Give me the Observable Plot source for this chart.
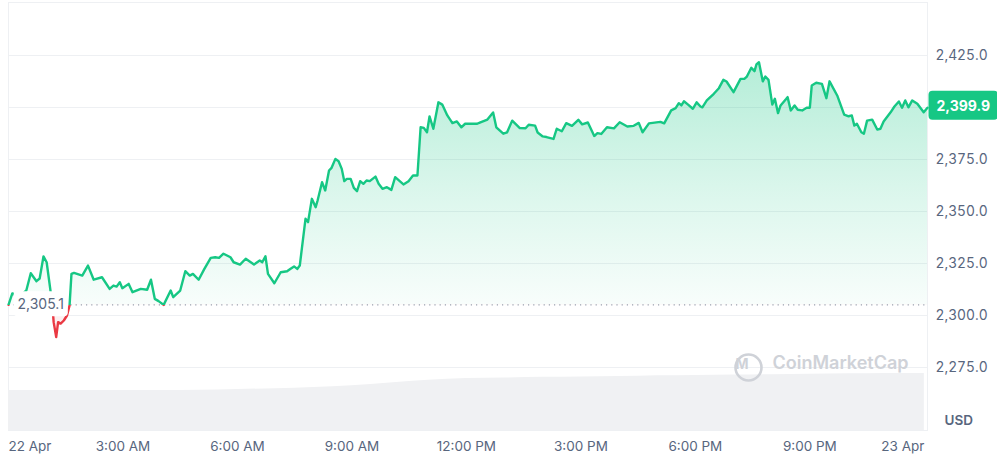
<!DOCTYPE html>
<html>
<head>
<meta charset="utf-8">
<script src="https://cdn.jsdelivr.net/npm/d3@7"></script>
<script src="https://cdn.jsdelivr.net/npm/@observablehq/plot@0.6"></script>
<style>
  html, body { margin: 0; padding: 0; background: #fff; }
  #chart { width: 997px; height: 462px; }
</style>
</head>
<body>
<div id="chart"></div>
<script>
// ---- data (minutes after 22 Apr 00:00, price in USD) ----
const minutes = [0,6,16,24,28,35,44,49,55,60,66,69,71,75,78,82,87,92,96,99,103,116,125,134,147,159,165,170,175,179,189,195,208,218,224,230,236,244,255,259,270,278,285,290,299,308,318,325,331,338,349,354,364,373,386,395,399,404,408,418,428,438,443,449,454,458,467,471,477,483,486,493,498,504,508,514,519,524,528,532,538,543,548,553,558,563,568,577,582,588,595,602,608,621,629,636,643,648,653,658,662,668,676,682,690,698,705,712,718,737,742,753,762,767,778,784,792,804,813,818,828,832,840,846,852,857,862,870,877,886,896,902,911,921,926,932,941,952,961,973,983,991,997,1007,1025,1031,1042,1049,1054,1058,1062,1069,1076,1082,1088,1091,1098,1109,1117,1124,1129,1140,1151,1157,1161,1168,1173,1176,1180,1186,1190,1195,1201,1205,1210,1214,1223,1225,1230,1236,1241,1248,1255,1260,1263,1270,1279,1286,1291,1303,1314,1321,1326,1330,1334,1341,1345,1350,1358,1366,1371,1376,1387,1393,1400,1405,1410,1415,1421,1429,1439,1445];
const prices = [2305.1,2310.6,2309.1,2311.0,2312.0,2320.3,2316.5,2317.8,2328.4,2325.6,2312.0,2305.0,2296.8,2289.6,2296.8,2296.1,2297.6,2300.0,2304.8,2320.0,2320.5,2319.2,2324.0,2317.2,2318.4,2312.8,2314.4,2313.9,2316.0,2313.1,2315.2,2311.2,2312.8,2312.4,2317.2,2308.0,2306.9,2305.1,2312.0,2308.8,2312.0,2321.3,2319.2,2320.0,2317.2,2322.4,2327.7,2328.0,2327.7,2329.7,2328.0,2325.6,2324.5,2327.3,2324.5,2326.4,2325.6,2328.5,2320.0,2315.5,2320.8,2321.3,2322.4,2323.6,2322.4,2324.0,2346.5,2344.9,2356.1,2352.1,2355.3,2364.1,2360.1,2369.7,2371.0,2375.3,2374.2,2370.5,2364.6,2365.7,2365.7,2361.4,2359.8,2364.6,2363.3,2364.9,2364.6,2366.8,2363.3,2360.9,2361.7,2360.4,2366.5,2363.0,2364.6,2367.3,2367.3,2390.5,2390.2,2388.1,2395.7,2389.8,2402.5,2401.4,2396.2,2392.5,2393.3,2390.5,2392.2,2392.2,2392.9,2394.2,2397.6,2390.5,2387.4,2388.1,2393.7,2390.1,2390.0,2391.7,2391.3,2388.0,2386.1,2385.8,2385.3,2384.9,2389.8,2388.6,2392.5,2391.2,2394.1,2391.9,2392.8,2386.3,2387.7,2387.3,2390.5,2390.0,2392.9,2390.9,2391.2,2392.6,2388.1,2392.4,2393.1,2392.4,2398.6,2399.7,2402.1,2401.0,2403.0,2401.3,2399.4,2402.5,2400.5,2400.1,2403.4,2406.6,2409.3,2413.3,2412.5,2407.4,2413.8,2413.8,2414.9,2419.1,2417.5,2420.7,2421.8,2412.6,2414.9,2413.3,2401.4,2404.2,2397.3,2401.0,2404.2,2405.0,2398.6,2401.0,2398.9,2398.6,2399.9,2399.9,2410.6,2411.9,2411.4,2404.5,2412.6,2405.8,2396.6,2395.8,2396.2,2391.3,2392.2,2388.1,2387.4,2393.7,2394.2,2389.4,2389.8,2393.3,2397.7,2400.5,2402.9,2399.9,2403.4,2400.1,2403.4,2401.8,2397.7,2399.9];

// 24h rolling volume (billions USD), hourly
const volHours = [0,1,2,3,4,5,6,7,8,9,10,11,12,13,14,15,16,17,18,19,20,21,22,23,24];
const volumes  = [10.5,10.5,10.5,10.5,10.5,10.6,10.8,11.0,11.3,11.8,12.5,13.2,13.7,13.8,14.0,14.1,14.2,14.4,14.5,14.6,14.7,14.8,14.9,15.0,15.0];

const basePrice = 2305.1;
const lastPrice = 2399.9;

const gridValues = [2275, 2300, 2325, 2350, 2375, 2400, 2425];
const axisValues = [2275, 2300, 2325, 2350, 2375, 2425];

const tickHours  = [0, 3, 6, 9, 12, 15, 18, 21, 24];
const tickLabels = ["22 Apr", "3:00 AM", "6:00 AM", "9:00 AM", "12:00 PM", "3:00 PM", "6:00 PM", "9:00 PM", "23 Apr"];

// ---- build tables ----
const t0 = Date.UTC(2024, 3, 22, 0, 0);
const toDate = m => new Date(t0 + m * 60000);
const series = minutes.map((m, i) => ({date: toDate(m), price: prices[i]}));
const last = series[series.length - 1];
const ticks = tickHours.map((h, i) => ({date: toDate(h * 60), label: tickLabels[i]}));

const yDomain = [2244.7, 2450.5];
const volBand = (yDomain[1] - yDomain[0]) * 0.1332;
const volToY = d3.scaleLinear([0, d3.max(volumes)], [yDomain[0], yDomain[0] + volBand]);
const vol = volHours.map((h, i) => ({date: toDate(h * 60), v: volumes[i]}));

const GREEN = "#16c784", RED = "#ea3943", GRAY = "#58667e", WM = "#cfd2d8";

const chart = Plot.plot({
  width: 997,
  height: 462,
  marginLeft: 8,
  marginRight: 70,
  marginTop: 2,
  marginBottom: 32,
  style: {fontFamily: "Inter, 'Noto Sans', sans-serif", fontSize: "13.8px", color: GRAY, background: "#fff"},
  x: {type: "utc", domain: [toDate(0), last.date], axis: null},
  y: {domain: yDomain, axis: "right", ticks: axisValues, tickSize: 0, tickPadding: 8, tickFormat: d3.format(",.1f"), label: null},
  marks: [
    Plot.frame({stroke: "#eef0f3"}),
    Plot.ruleY(gridValues, {stroke: "#eef0f3", strokeWidth: 1}),
    Plot.areaY(vol, {x: "date", y1: () => yDomain[0], y2: d => volToY(d.v), fill: "#f0f1f3", curve: "monotone-x"}),
    Plot.ruleY([basePrice], {stroke: "#9aa2b1", strokeDasharray: "1.2,4", strokeWidth: 1.2}),
    Plot.areaY(series, {x: "date", y1: () => basePrice, y2: "price", fill: "url(#greenGrad)", className: "green-area"}),
    Plot.areaY(series, {x: "date", y1: () => basePrice, y2: "price", fill: RED, fillOpacity: 0.08, className: "red-area"}),
    Plot.line(series, {x: "date", y: "price", stroke: RED, strokeWidth: 2.4, strokeLinejoin: "round", className: "red-line"}),
    Plot.line(series, {x: "date", y: "price", stroke: GREEN, strokeWidth: 2.4, strokeLinejoin: "round", className: "green-line"}),
    // watermark
    Plot.dot([0], {frameAnchor: "bottom-right", dx: -179, dy: -63, r: 13, stroke: WM, strokeWidth: 2.6, fill: "none"}),
    Plot.text(["M"], {frameAnchor: "bottom-right", dx: -179, dy: -62, fontSize: 14, fontWeight: 700, fill: WM}),
    Plot.text(["CoinMarketCap"], {frameAnchor: "bottom-right", dx: -19, dy: -62, textAnchor: "end", fontSize: 18, fontWeight: 600, fill: WM}),
    // base price label
    Plot.text([{date: toDate(0), price: basePrice}], {x: "date", y: "price", text: d => d3.format(",.1f")(d.price), textAnchor: "start", dx: 9, fill: GRAY, fontSize: 14, className: "base-label"}),
    // last price label
    Plot.text([last], {x: "date", y: "price", text: () => d3.format(",.1f")(lastPrice), textAnchor: "start", dx: 9, dy: -1.5, fill: "#fff", fontSize: 14, fontWeight: 700, className: "last-label"}),
    // x labels
    Plot.text(ticks.slice(0, 1), {x: "date", text: "label", frameAnchor: "bottom", dy: 20, textAnchor: "start", fill: GRAY, fontSize: 13.5}),
    Plot.text(ticks.slice(1, -1), {x: "date", text: "label", frameAnchor: "bottom", dy: 20, textAnchor: "middle", fill: GRAY, fontSize: 13.5}),
    Plot.text(ticks.slice(-1), {x: "date", text: "label", frameAnchor: "bottom", dy: 20, textAnchor: "end", fill: GRAY, fontSize: 13.5}),
    Plot.text(["USD"], {frameAnchor: "bottom-right", dx: 17, dy: -6, textAnchor: "start", fontWeight: 600, fontSize: 13.5, fill: GRAY})
  ]
});

document.getElementById("chart").appendChild(chart);

// ---- post-processing: gradient, clipping, label boxes ----
const svg = d3.select(chart);
const ys = chart.scale("y");
const yb = ys.apply(basePrice);
const yTop = ys.apply(d3.max(prices));
const defs = svg.insert("defs", ":first-child");
const grad = defs.append("linearGradient").attr("id", "greenGrad")
  .attr("gradientUnits", "userSpaceOnUse").attr("x1", 0).attr("x2", 0).attr("y1", yTop).attr("y2", yb);
grad.append("stop").attr("offset", 0).attr("stop-color", GREEN).attr("stop-opacity", 0.32);
grad.append("stop").attr("offset", 0.55).attr("stop-color", GREEN).attr("stop-opacity", 0.15);
grad.append("stop").attr("offset", 1).attr("stop-color", GREEN).attr("stop-opacity", 0.03);
defs.append("clipPath").attr("id", "clipAbove").append("rect")
  .attr("x", 0).attr("y", 0).attr("width", 997).attr("height", yb);
defs.append("clipPath").attr("id", "clipBelow").append("rect")
  .attr("x", 0).attr("y", yb).attr("width", 997).attr("height", 462 - yb);

svg.selectAll(".green-line, .green-area").attr("clip-path", "url(#clipAbove)");
svg.selectAll(".red-line, .red-area").attr("clip-path", "url(#clipBelow)");

function boxBehind(cls, fill, padX, padY, rx) {
  const g = svg.select("." + cls);
  const t = g.select("text");
  if (t.empty()) return;
  const b = t.node().getBBox();
  g.insert("rect", "text")
    .attr("x", b.x - padX).attr("y", b.y - padY)
    .attr("width", b.width + 2 * padX).attr("height", b.height + 2 * padY)
    .attr("rx", rx).attr("fill", fill).attr("transform", t.attr("transform"));
}
boxBehind("base-label", "#fff", 4, 4, 4);
boxBehind("last-label", GREEN, 8, 6, 4);
</script>
</body>
</html>
